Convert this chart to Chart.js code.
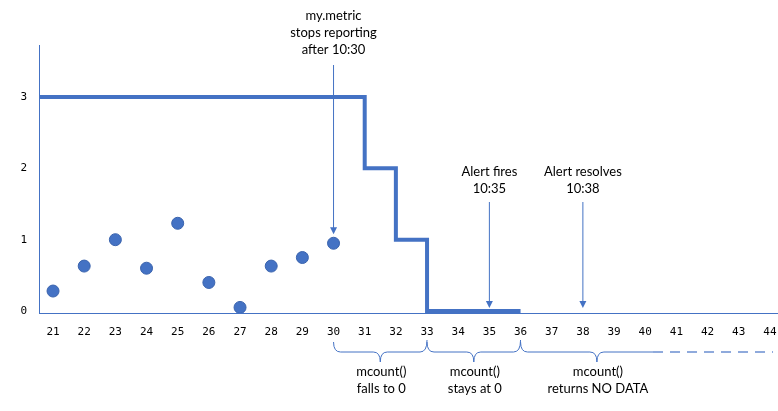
<!DOCTYPE html>
<html>
<head>
<meta charset="utf-8">
<script src="https://cdn.jsdelivr.net/npm/chart.js@4.4.0/dist/chart.umd.min.js"></script>
<style>
    html, body { margin: 0; padding: 0; background: #ffffff; }
</style>
</head>
<body>
<canvas id="alertChart" width="778" height="411"></canvas>
<script>
// Data
const minuteTicks = [21, 22, 23, 24, 25, 26, 27, 28, 29, 30, 31, 32, 33, 34, 35, 36, 37, 38, 39, 40, 41, 42, 43, 44];
const valueTicks = [0, 1, 2, 3];

// my.metric raw points (stops after 10:30)
const metricMinutes = [21, 22, 23, 24, 25, 26, 27, 28, 29, 30];
const metricValues = [0.28, 0.63, 1.0, 0.6, 1.23, 0.4, 0.05, 0.63, 0.75, 0.95];

// mcount() step line
const X_MIN = 20.55;
const X_MAX = 44.26;
const mcountMinutes = [X_MIN, 31, 32, 33, 36];
const mcountValues = [3, 2, 1, 0, 0];

// callouts: label lines, minute they point at, value they point to
const calloutText = [
    ['my.metric', 'stops reporting', 'after 10:30'],
    ['Alert fires', '10:35'],
    ['Alert resolves', '10:38']
];
const calloutMinutes = [30, 35, 38];
const calloutTargets = [metricValues[9], 0, 0];

// braces under the axis: [from, to, tip] in minutes
const braceSpans = [[30, 33, 31.5], [33, 36, 34.5], [36, 40.25, 38.45]];
const braceText = [
    ['mcount()', 'falls to 0'],
    ['mcount()', 'stays at 0'],
    ['mcount()', 'returns NO DATA']
];
const noDataDashEnd = 44.1;

const colors = {
    blue: '#4472C4',
    lightBlue: '#8FAADC',
    text: '#000000'
};

const textFont = "13px Lato, 'Open Sans', sans-serif";
const tickFont = "'DejaVu Sans Mono', monospace";

function drawArrow(ctx, px, top, tip) {
    ctx.beginPath();
    ctx.moveTo(px, top);
    ctx.lineTo(px, tip - 6);
    ctx.stroke();
    ctx.beginPath();
    ctx.moveTo(px - 3.5, tip - 7);
    ctx.lineTo(px + 3.5, tip - 7);
    ctx.lineTo(px, tip);
    ctx.closePath();
    ctx.fill();
}

function drawBrace(ctx, x0, x1, xc, top0, top1, mid, bottom, openRight) {
    const r = 7;
    ctx.beginPath();
    ctx.moveTo(x0, top0);
    ctx.quadraticCurveTo(x0, mid, x0 + r, mid);
    ctx.lineTo(xc - r, mid);
    ctx.quadraticCurveTo(xc, mid, xc, bottom);
    ctx.quadraticCurveTo(xc, mid, xc + r, mid);
    if (openRight) {
        ctx.lineTo(x1, mid);
    } else {
        ctx.lineTo(x1 - r, mid);
        ctx.quadraticCurveTo(x1, mid, x1, top1);
    }
    ctx.stroke();
}

// annotations: callout arrows, braces and their captions
const notesPlugin = {
    id: 'notes',
    afterDraw(chart) {
        const { ctx, scales: { x, y } } = chart;
        ctx.save();
        ctx.font = textFont;
        ctx.textAlign = 'center';
        ctx.textBaseline = 'middle';
        ctx.strokeStyle = colors.blue;
        ctx.fillStyle = colors.blue;
        ctx.lineWidth = 1;

        const textTops = [16, 172, 172];
        const arrowTops = [65, 202, 202];
        const gaps = [9, 3, 3];
        calloutText.forEach((lines, i) => {
            const px = x.getPixelForValue(calloutMinutes[i]);
            ctx.fillStyle = colors.blue;
            drawArrow(ctx, px, arrowTops[i], y.getPixelForValue(calloutTargets[i]) - gaps[i]);
            ctx.fillStyle = colors.text;
            lines.forEach((t, j) => ctx.fillText(t, px, textTops[i] + j * 17));
        });

        braceSpans.forEach((span, i) => {
            const x0 = x.getPixelForValue(span[0]);
            const x1 = x.getPixelForValue(span[1]);
            const xc = x.getPixelForValue(span[2]);
            ctx.strokeStyle = colors.blue;
            drawBrace(ctx, x0, x1, xc, 342, 340, 352, 362, i === braceSpans.length - 1);
            ctx.fillStyle = colors.text;
            braceText[i].forEach((t, j) => ctx.fillText(t, xc + 1, 372 + j * 17));
        });

        // dashed continuation of the NO DATA span
        ctx.strokeStyle = colors.lightBlue;
        ctx.lineWidth = 2;
        ctx.setLineDash([10, 7]);
        ctx.beginPath();
        ctx.moveTo(x.getPixelForValue(braceSpans[2][1]), 352);
        ctx.lineTo(x.getPixelForValue(noDataDashEnd), 352);
        ctx.stroke();
        ctx.restore();
    }
};

new Chart(document.getElementById('alertChart'), {
    type: 'line',
    data: {
        datasets: [
            {
                label: 'mcount()',
                data: mcountMinutes.map((m, i) => ({ x: m, y: mcountValues[i] })),
                borderColor: colors.blue,
                borderWidth: 4,
                borderCapStyle: 'butt',
                stepped: 'before',
                pointRadius: 0,
                fill: false
            },
            {
                type: 'scatter',
                label: 'my.metric',
                data: metricMinutes.map((m, i) => ({ x: m, y: metricValues[i] })),
                backgroundColor: colors.blue,
                borderColor: '#3A63AD',
                borderWidth: 1,
                pointRadius: 6
            }
        ]
    },
    options: {
        responsive: false,
        animation: false,
        layout: {
            autoPadding: false,
            padding: { left: 0, right: 0, top: 45, bottom: 74 }
        },
        plugins: {
            legend: { display: false },
            tooltip: { enabled: false }
        },
        scales: {
            x: {
                type: 'linear',
                min: X_MIN,
                max: X_MAX,
                afterBuildTicks: scale => {
                    scale.ticks = minuteTicks.map(v => ({ value: v }));
                },
                afterFit: scale => {
                    scale.height = 24;
                    scale.paddingLeft = 0;
                    scale.paddingRight = 0;
                },
                grid: { display: false },
                border: { display: true, color: colors.blue, width: 1 },
                ticks: {
                    font: { family: tickFont, size: 11 },
                    color: colors.text,
                    padding: 5,
                    maxRotation: 0,
                    autoSkip: false
                }
            },
            y: {
                type: 'linear',
                min: -0.028,
                max: 3.73,
                afterBuildTicks: scale => {
                    scale.ticks = valueTicks.map(v => ({ value: v }));
                },
                afterFit: scale => {
                    scale.width = 39;
                    scale.paddingTop = 0;
                    scale.paddingBottom = 0;
                },
                grid: { display: false },
                border: { display: true, color: colors.blue, width: 1 },
                ticks: {
                    font: { family: tickFont, size: 11 },
                    color: colors.text,
                    padding: 4
                }
            }
        }
    },
    plugins: [notesPlugin]
});
</script>
</body>
</html>
